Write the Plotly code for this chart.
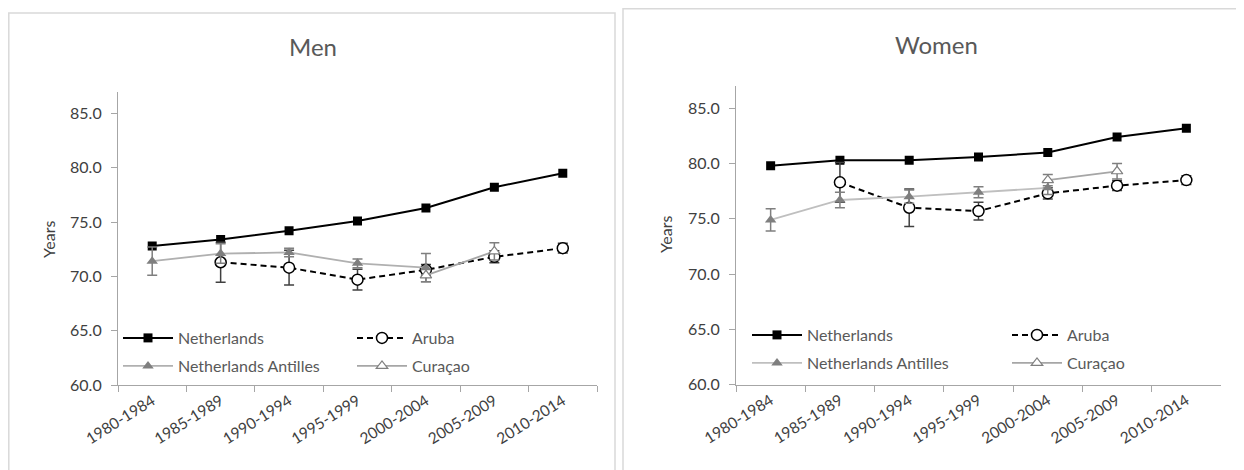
import plotly.graph_objects as go

periods = ["1980-1984", "1985-1989", "1990-1994", "1995-1999", "2000-2004", "2005-2009", "2010-2014"]

# Men
men_nl = [72.8, 73.4, 74.2, 75.1, 76.3, 78.2, 79.5]
men_aruba = [None, 71.3, 70.8, 69.7, 70.6, 71.8, 72.6]
men_aruba_err = [None, 1.85, 1.6, 0.95, 0.5, 0.55, 0.45]
men_na = [71.4, 72.1, 72.2, 71.2, 70.8, None, None]
men_na_err = [1.3, 0.9, 0.4, 0.4, 1.3, None, None]
men_cur = [None, None, None, None, 70.1, 72.3, None]
men_cur_err = [None, None, None, None, 0.6, 0.8, None]

# Women
wom_nl = [79.8, 80.3, 80.3, 80.6, 81.0, 82.4, 83.2]
wom_aruba = [None, 78.3, 76.0, 75.7, 77.3, 78.0, 78.5]
wom_aruba_err = [None, 1.8, 1.7, 0.8, 0.5, 0.45, 0.4]
wom_na = [74.9, 76.7, 77.0, 77.4, 77.8, None, None]
wom_na_err = [1.0, 0.7, 0.6, 0.5, 0.6, None, None]
wom_cur = [None, None, None, None, 78.5, 79.3, None]
wom_cur_err = [None, None, None, None, 0.5, 0.7, None]

panel_titles = ["Men", "Women"]
series_names = ["Netherlands", "Aruba", "Netherlands Antilles", "Curaçao"]
y_title = "Years"

FONT = "Lato"
TXT = "#595959"
TICK = "#404040"
AX = "#a6a6a6"

fig = go.Figure()


def add_panel(xa, ya, nl, ar, ar_e, na, na_e, cu, cu_e, leg1, leg2, na_color):
    fig.add_trace(go.Scatter(
        x=periods, y=nl, name=series_names[0], mode="lines+markers",
        line=dict(color="black", width=2),
        marker=dict(symbol="square", size=9, color="black"),
        xaxis=xa, yaxis=ya, legend=leg1))
    fig.add_trace(go.Scatter(
        x=periods, y=ar, name=series_names[1], mode="lines+markers",
        line=dict(color="black", width=2, dash="6px,4px"),
        marker=dict(symbol="circle", size=11, color="white", line=dict(color="black", width=1.5)),
        error_y=dict(type="data", array=ar_e, color="#404040", thickness=1.5, width=5),
        xaxis=xa, yaxis=ya, legend=leg1))
    fig.add_trace(go.Scatter(
        x=periods, y=na, name=series_names[2], mode="lines+markers",
        line=dict(color=na_color, width=1.8),
        marker=dict(symbol="triangle-up", size=10, color="#7f7f7f"),
        error_y=dict(type="data", array=na_e, color="#7f7f7f", thickness=1.5, width=5),
        xaxis=xa, yaxis=ya, legend=leg2))
    fig.add_trace(go.Scatter(
        x=periods, y=cu, name=series_names[3], mode="lines+markers",
        line=dict(color="#a6a6a6", width=1.8),
        marker=dict(symbol="triangle-up", size=10, color="white", line=dict(color="#7f7f7f", width=1.2)),
        error_y=dict(type="data", array=cu_e, color="#7f7f7f", thickness=1.5, width=5),
        xaxis=xa, yaxis=ya, legend=leg2))


add_panel("x", "y", men_nl, men_aruba, men_aruba_err, men_na, men_na_err, men_cur, men_cur_err,
          "legend", "legend2", "#b0b0b0")
add_panel("x2", "y2", wom_nl, wom_aruba, wom_aruba_err, wom_na, wom_na_err, wom_cur, wom_cur_err,
          "legend3", "legend4", "#bfbfbf")

W, H = 1244, 470
OFF = 8  # page body margin


def px_x(v):
    return (v - OFF) / W


def px_y(v):
    return (H - (v - OFF)) / H


xaxis_common = dict(
    type="category", categoryorder="array", categoryarray=periods,
    range=[-0.5, 6.5], tickson="boundaries", ticks="outside", ticklen=6,
    tickcolor=AX, showline=True, linecolor=AX, linewidth=1.2, showgrid=False,
    zeroline=False, tickangle=-32, tickfont=dict(family=FONT, size=15.5, color=TICK),
    fixedrange=True, automargin=False,
)
yaxis_common = dict(
    range=[60, 87], tick0=60, dtick=5, tickformat=".1f", ticks="outside", ticklen=6,
    tickcolor=AX, showline=True, linecolor=AX, linewidth=1.2, showgrid=False,
    zeroline=False, tickfont=dict(family=FONT, size=16, color=TICK),
    ticklabelstandoff=6, fixedrange=True, automargin=False,
)

legend_common = dict(
    orientation="h", xanchor="left", yanchor="middle", bgcolor="rgba(0,0,0,0)",
    font=dict(family=FONT, size=16, color=TXT), itemwidth=50, entrywidthmode="pixels",
    borderwidth=0, tracegroupgap=0, itemclick=False, itemdoubleclick=False,
)

fig.update_layout(
    template="none",
    width=W, height=H, margin=dict(l=0, r=0, t=0, b=0, autoexpand=False),
    paper_bgcolor="white", plot_bgcolor="white",
    font=dict(family=FONT, color=TXT),
    xaxis=dict(domain=[px_x(118), px_x(597)], anchor="y", **xaxis_common),
    yaxis=dict(domain=[px_y(385), px_y(91.7)], anchor="x", **yaxis_common),
    xaxis2=dict(domain=[px_x(736), px_x(1221)], anchor="y2", **xaxis_common),
    yaxis2=dict(domain=[px_y(384.5), px_y(86.2)], anchor="x2", **yaxis_common),
    legend=dict(x=px_x(118), y=px_y(338), entrywidth=169, **legend_common),
    legend2=dict(x=px_x(118), y=px_y(366), entrywidth=169, **legend_common),
    legend3=dict(x=px_x(747), y=px_y(335), entrywidth=195, **legend_common),
    legend4=dict(x=px_x(747), y=px_y(363), entrywidth=195, **legend_common),
    showlegend=True,
)

# panel titles
fig.add_annotation(text=panel_titles[0], x=px_x(313), y=px_y(46), xref="paper", yref="paper",
                   xanchor="center", yanchor="middle",
                   showarrow=False, font=dict(family=FONT, size=24, color=TXT))
fig.add_annotation(text=panel_titles[1], x=px_x(936), y=px_y(44), xref="paper", yref="paper",
                   xanchor="center", yanchor="middle",
                   showarrow=False, font=dict(family=FONT, size=24, color=TXT))
# y-axis titles
fig.add_annotation(text=y_title, x=px_x(48), y=px_y(240), xref="paper", yref="paper",
                   xanchor="center", yanchor="middle",
                   showarrow=False, textangle=-90, font=dict(family=FONT, size=16, color=TICK))
fig.add_annotation(text=y_title, x=px_x(665), y=px_y(235), xref="paper", yref="paper",
                   xanchor="center", yanchor="middle",
                   showarrow=False, textangle=-90, font=dict(family=FONT, size=16, color=TICK))

# panel frames
fig.add_shape(type="rect", xref="paper", yref="paper", x0=px_x(8.8), x1=px_x(615),
              y0=-0.05, y1=px_y(13), line=dict(color="#d9d9d9", width=1.5), layer="below")
fig.add_shape(type="rect", xref="paper", yref="paper", x0=px_x(623), x1=1.02,
              y0=-0.05, y1=px_y(8.8), line=dict(color="#d9d9d9", width=1.5), layer="below")

fig.write_html("out.html")
